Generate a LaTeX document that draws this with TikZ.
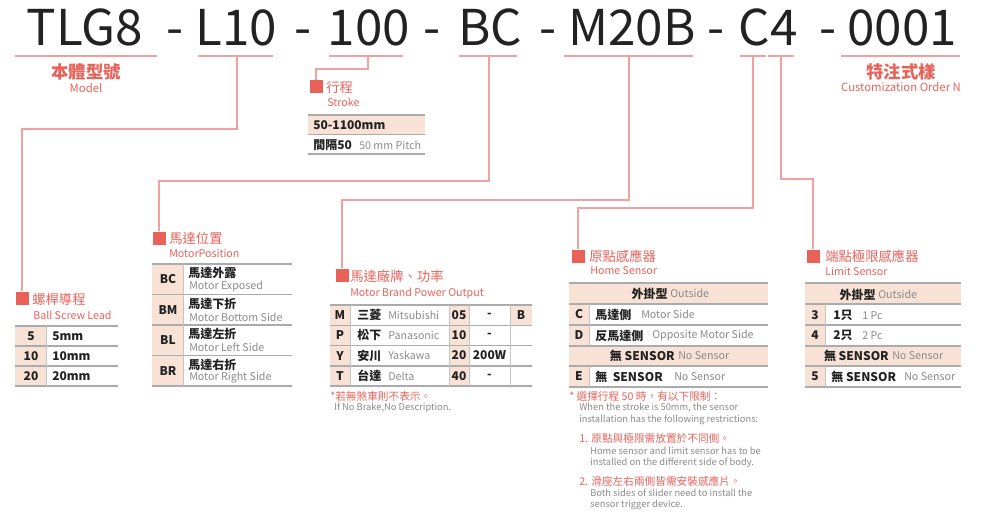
\documentclass[tikz,border=0pt]{standalone}
\usepackage{fontspec}
\setmainfont{Noto Sans CJK TC}
\definecolor{mred}{HTML}{E8625A}
\definecolor{mpink}{HTML}{F8E2D6}
\definecolor{mlink}{HTML}{F4A0A0}
\definecolor{mline}{HTML}{ABABAB}
\definecolor{mtext}{HTML}{222222}
\definecolor{mgray}{HTML}{8A8A8A}
\begin{document}
\begin{tikzpicture}[x=0.75pt,y=-0.75pt,
  code_text/.style={font=\fontsize{37}{37}\selectfont,text=mtext,inner sep=0,anchor=base},
  under_line/.style={mlink,line width=0.8pt},
  link/.style={mlink,line width=0.8pt},
  mark_box/.style={fill=mred,draw=none,minimum size=9.75pt,inner sep=0},
  title_zh/.style={font=\fontsize{10}{10}\selectfont,text=mred,anchor=west,inner sep=0},
  title_en/.style={font=\fontsize{8}{8}\selectfont,text=mred,anchor=west,inner sep=0},
  cell_zh/.style={font=\fontsize{9}{9}\selectfont\bfseries,text=mtext,inner sep=0},
  cell_en/.style={font=\fontsize{8}{8}\selectfont,text=mgray,inner sep=0},
  note_zh/.style={font=\fontsize{8}{8}\selectfont,text=mred,anchor=west,inner sep=0},
  note_en/.style={font=\fontsize{7}{7}\selectfont,text=mgray,anchor=west,inner sep=0},
  row_line/.style={mline,line width=1.1pt},
  col_line/.style={mline!70,line width=0.6pt}]
\useasboundingbox (0,0) rectangle (1000,517);

% code
\node[code_text] (tlg) at (85,46) {TLG8};
\node[code_text] (d1) at (175,46) {-};
\node[code_text] (lead) at (236,46) {L10};
\node[code_text] (d2) at (303,46) {-};
\node[code_text] (strk) at (369,46) {100};
\node[code_text] (d3) at (432,46) {-};
\node[code_text] (pos) at (490,46) {BC};
\node[code_text] (d4) at (548,46) {-};
\node[code_text] (brand) at (632,46) {M20B};
\node[code_text] (d5) at (716,46) {-};
\node[code_text] (sens) at (768,46) {C4};
\node[code_text] (d6) at (828,46) {-};
\node[code_text] (order) at (902,46) {0001};

\draw[under_line] (15,56) -- (157,56);
\draw[under_line] (198,56) -- (273,56);
\draw[under_line] (329,56) -- (403,56);
\draw[under_line] (459,56) -- (517,56);
\draw[under_line] (564,56) -- (693,56);
\draw[under_line] (740,56) -- (766,56);
\draw[under_line] (768,56) -- (794,56);
\draw[under_line] (841,56) -- (960,56);
\coordinate (u_lead) at (237,56);
\coordinate (u_strk) at (368,56);
\coordinate (u_pos) at (489,56);
\coordinate (u_brand) at (629,56);
\coordinate (u_home) at (753,56);
\coordinate (u_limit) at (781,56);

% marks
\node[mark_box] (m_lead) at (22,298) {};
\node[mark_box] (m_strk) at (316,87) {};
\node[mark_box] (m_pos) at (159,238) {};
\node[mark_box] (m_brand) at (342,275) {};
\node[mark_box] (m_home) at (578,256) {};
\node[mark_box] (m_limit) at (813,256) {};

\draw[link] (u_lead) -- ++(0,73) -| (m_lead.north);
\draw[link] (u_strk) -- ++(0,13) -| (m_strk.north);
\draw[link] (u_pos) -- ++(0,125) -| (m_pos.north);
\draw[link] (u_brand) -- ++(0,144) -| (m_brand.north);
\draw[link] (u_home) -- ++(0,152) -| (m_home.north);
\draw[link] (u_limit) -- ++(0,123) -| (m_limit.north);

% titles
\node[font=\fontsize{13}{13}\selectfont\bfseries,text=mred,inner sep=0] (t_model) at (86,72) {本體型號};
\node[font=\fontsize{8.5}{8.5}\selectfont,text=mred,inner sep=0] (e_model) at (86,88) {Model};
\node[font=\fontsize{13}{13}\selectfont\bfseries,text=mred,inner sep=0] (t_order) at (901,72) {特注式樣};
\node[font=\fontsize{8.5}{8.5}\selectfont,text=mred,inner sep=0] (e_order) at (901,87) {Customization Order N};
\node[title_zh] (t_strk) at (326,87) {行程};
\node[title_en] (e_strk) at (327,102) {Stroke};
\node[title_zh] (t_lead) at (32,299) {螺桿導程};
\node[title_en] (e_lead) at (33,315) {Ball Screw Lead};
\node[title_zh] (t_pos) at (169,238) {馬達位置};
\node[title_en] (e_pos) at (169,253) {MotorPosition};
\node[title_zh] (t_brand) at (350,276) {馬達廠牌、功率};
\node[title_en] (e_brand) at (350,293) {Motor Brand Power Output};
\node[title_zh] (t_home) at (589,256) {原點感應器};
\node[title_en] (e_home) at (590,271) {Home Sensor};
\node[title_zh] (t_limit) at (825,256) {端點極限感應器};
\node[title_en] (e_limit) at (825,271) {Limit Sensor};

% stroke table
\fill[mpink] (308,115) rectangle (425,134);
\draw[row_line] (308,115) -- (425,115);
\draw[row_line] (308,134.5) -- (425,134.5);
\draw[row_line] (308,154) -- (425,154);
\node[cell_zh,anchor=west] (s1) at (313,125) {50-1100mm};
\node[cell_zh,anchor=west] (s2) at (313,145) {間隔50};
\node[cell_en,anchor=west] (s3) at (359,145) {50 mm Pitch};

% lead table
\fill[mpink] (15,326) rectangle (46,386);
\foreach \y in {326,346,366,386} \draw[row_line] (15,\y) -- (118,\y);
\draw[col_line] (46,326) -- (46,386);
\foreach \k/\y in {5/336,10/356,20/376} {
  \node[cell_zh] at (31,\y) {\k};
  \node[cell_zh,anchor=west] at (52,\y) {\k mm};
}

% position table
\fill[mpink] (152,264) rectangle (183,386);
\foreach \y in {264,294.5,325,355.5,386} \draw[row_line] (152,\y) -- (292,\y);
\draw[col_line] (183,264) -- (183,386);
\foreach \k/\zh/\en [count=\i from 0] in {BC/馬達外露/Motor Exposed,BM/馬達下折/Motor Bottom Side,BL/馬達左折/Motor Left Side,BR/馬達右折/Motor Right Side} {
  \node[cell_zh] at (168,279.5+30.5*\i) {\k};
  \node[cell_zh,anchor=west] at (188,273+30.5*\i) {\zh};
  \node[cell_en,anchor=west] at (189,286.5+30.5*\i) {\en};
}

% brand table
\fill[mpink] (330,305) rectangle (350,386);
\fill[mpink] (449,305) rectangle (469,386);
\fill[mpink] (510,305) rectangle (532,325);
\foreach \y in {305,325.5,345.5,366,386} \draw[row_line] (330,\y) -- (532,\y);
\foreach \x in {350,449,469,510} \draw[col_line] (\x,305) -- (\x,386);
\foreach \k/\zh/\en/\n/\w [count=\i from 0] in {M/三菱/Mitsubishi/05/-,P/松下/Panasonic/10/-,Y/安川/Yaskawa/20/200W,T/台達/Delta/40/-} {
  \node[cell_zh] at (340,315+20.3*\i) {\k};
  \node[cell_zh,anchor=west] at (357,315+20.3*\i) {\zh};
  \node[cell_en,anchor=west] at (388,315+20.3*\i) {\en};
  \node[cell_zh] at (459,315+20.3*\i) {\n};
  \node[cell_zh] at (489.5,315+20.3*\i) {\w};
}
\node[cell_zh] (b_cell) at (521,315) {B};
\node[note_zh] (n_brake) at (330,396) {*若無煞車則不表示。};
\node[note_en] (n_brake_en) at (334,408) {If No Brake,No Description.};

% home sensor table
\fill[mpink] (569,283) rectangle (768,304);
\fill[mpink] (569,346) rectangle (768,366);
\fill[mpink] (569,304) rectangle (589,346);
\fill[mpink] (569,366) rectangle (589,387);
\foreach \y in {283,304,325,346,366,387} \draw[row_line] (569,\y) -- (768,\y);
\draw[col_line] (589,304) -- (589,346);
\draw[col_line] (589,366) -- (589,387);
\node[cell_zh,anchor=east] at (668,293.5) {外掛型};
\node[cell_en,anchor=west] at (670,293.5) {Outside};
\node[cell_zh] at (579,314.5) {C};
\node[cell_zh,anchor=west] at (595,314.5) {馬達側};
\node[cell_en,anchor=west] at (641,314.5) {Motor Side};
\node[cell_zh] at (579,335.5) {D};
\node[cell_zh,anchor=west] at (595,335.5) {反馬達側};
\node[cell_en,anchor=west] at (652,335.5) {Opposite Motor Side};
\node[cell_zh,anchor=east] at (675,356) {無 SENSOR};
\node[cell_en,anchor=west] at (678,356) {No Sensor};
\node[cell_zh] at (579,376.5) {E};
\node[cell_zh,anchor=west] at (595,376.5) {無 \ SENSOR};
\node[cell_en,anchor=west] at (674,376.5) {No Sensor};

\node[note_zh] (n_home) at (569,396) {* 選擇行程 50 時，有以下限制：};
\node[note_en] at (579,408) {When the stroke is 50mm, the sensor};
\node[note_en] at (579,420) {installation has the following restrictions:};
\node[note_zh] at (579,438) {1. 原點與極限需放置於不同側。};
\node[note_en] at (590,451) {Home sensor and limit sensor has to be};
\node[note_en] at (590,463) {installed on the different side of body.};
\node[note_zh] at (579,481) {2. 滑座左右兩側皆需安裝感應片。};
\node[note_en] at (590,493) {Both sides of slider need to install the};
\node[note_en] at (590,505) {sensor trigger device.};

% limit sensor table
\fill[mpink] (805,283) rectangle (961,304);
\fill[mpink] (805,346) rectangle (961,366);
\fill[mpink] (805,304) rectangle (825,346);
\fill[mpink] (805,366) rectangle (825,387);
\foreach \y in {283,304,325,346,366,387} \draw[row_line] (805,\y) -- (961,\y);
\draw[col_line] (825,304) -- (825,346);
\draw[col_line] (825,366) -- (825,387);
\node[cell_zh,anchor=east] at (876,294.5) {外掛型};
\node[cell_en,anchor=west] at (878,294.5) {Outside};
\node[cell_zh] at (815,315) {3};
\node[cell_zh,anchor=west] at (833,315) {1只};
\node[cell_en,anchor=west] at (862,316) {1 Pc};
\node[cell_zh] at (815,335) {4};
\node[cell_zh,anchor=west] at (833,335) {2只};
\node[cell_en,anchor=west] at (862,336) {2 Pc};
\node[cell_zh,anchor=east] at (889,356) {無 SENSOR};
\node[cell_en,anchor=west] at (892,356) {No Sensor};
\node[cell_zh] at (815,376.5) {5};
\node[cell_zh,anchor=west] at (831,376.5) {無 SENSOR};
\node[cell_en,anchor=west] at (904,376.5) {No Sensor};
\end{tikzpicture}
\end{document}
